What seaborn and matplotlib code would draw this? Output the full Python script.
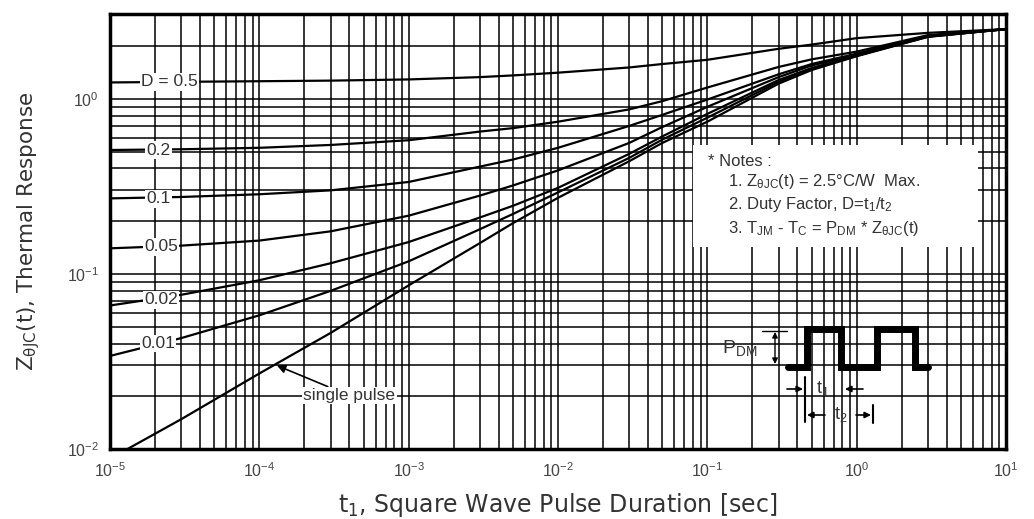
import pandas as pd
import seaborn as sns
import matplotlib.pyplot as plt
from matplotlib.patches import Rectangle
from matplotlib.ticker import LogLocator, NullFormatter, FixedFormatter, FixedLocator

sns.set_theme(style="white")
plt.rcParams["font.family"] = ["Liberation Sans", "DejaVu Sans"]
plt.rcParams["mathtext.fontset"] = "custom"
plt.rcParams["mathtext.rm"] = "Liberation Sans"
plt.rcParams["mathtext.it"] = "Liberation Sans:italic"
plt.rcParams["mathtext.default"] = "regular"

# pulse duration [sec] and thermal response Z(t)
t_sec = [1e-5, 3e-5, 1e-4, 3e-4, 1e-3, 3e-3, 5e-3, 1e-2, 3e-2, 5e-2, 1e-1, 3e-1, 5e-1, 1, 3, 10]
z_d050 = [1.24, 1.25, 1.26, 1.27, 1.29, 1.33, 1.36, 1.41, 1.51, 1.58, 1.67, 1.93, 2.04, 2.22, 2.38, 2.50]
z_d020 = [0.51, 0.515, 0.525, 0.545, 0.58, 0.65, 0.68, 0.74, 0.87, 0.97, 1.16, 1.52, 1.68, 1.86, 2.31, 2.50]
z_d010 = [0.27, 0.275, 0.285, 0.30, 0.335, 0.41, 0.45, 0.525, 0.70, 0.81, 0.99, 1.38, 1.58, 1.81, 2.29, 2.50]
z_d005 = [0.14, 0.145, 0.155, 0.175, 0.215, 0.28, 0.32, 0.39, 0.56, 0.69, 0.90, 1.33, 1.55, 1.79, 2.28, 2.50]
z_d002 = [0.066, 0.076, 0.092, 0.115, 0.152, 0.21, 0.245, 0.31, 0.485, 0.61, 0.82, 1.28, 1.50, 1.77, 2.27, 2.50]
z_d001 = [0.034, 0.043, 0.058, 0.08, 0.118, 0.18, 0.22, 0.292, 0.46, 0.585, 0.78, 1.25, 1.48, 1.76, 2.26, 2.50]
z_single = [0.0088, 0.0148, 0.027, 0.046, 0.086, 0.15, 0.195, 0.272, 0.44, 0.56, 0.74, 1.22, 1.46, 1.75, 2.26, 2.50]

curve_names = ["D = 0.5", "0.2", "0.1", "0.05", "0.02", "0.01", "single pulse"]
curve_values = [z_d050, z_d020, z_d010, z_d005, z_d002, z_d001, z_single]

# where the in-plot curve labels sit (t, Z)
label_t = [2.5e-5, 2.1e-5, 2.1e-5, 2.2e-5, 2.2e-5, 2.1e-5]
label_z = [1.25, 0.51, 0.268, 0.143, 0.071, 0.040]

df = pd.concat(
    [pd.DataFrame({"t": t_sec, "z": z, "curve": name}) for name, z in zip(curve_names, curve_values)],
    ignore_index=True,
)

fig = plt.figure(figsize=(10.34, 5.19), dpi=100)
ax = fig.add_axes([110 / 1034, 1 - 449 / 519, 896 / 1034, 435 / 519])

sns.lineplot(data=df, x="t", y="z", hue="curve", palette=["black"] * len(curve_names),
             legend=False, lw=1.6, ax=ax, zorder=3)

ax.set_xscale("log")
ax.set_yscale("log")
ax.set_xlim(1e-5, 10)
ax.set_ylim(1e-2, 3.05)

# full log grid, black like the printed chart
ax.xaxis.set_minor_locator(LogLocator(base=10, subs=range(2, 10), numticks=20))
ax.yaxis.set_minor_locator(LogLocator(base=10, subs=range(2, 10), numticks=20))
ax.xaxis.set_minor_formatter(NullFormatter())
ax.yaxis.set_minor_formatter(NullFormatter())
ax.xaxis.set_major_locator(FixedLocator([1e-5, 1e-4, 1e-3, 1e-2, 1e-1, 1, 10]))
ax.xaxis.set_major_formatter(FixedFormatter([r"$10^{-5}$", r"$10^{-4}$", r"$10^{-3}$", r"$10^{-2}$",
                                             r"$10^{-1}$", r"$10^{0}$", r"$10^{1}$"]))
ax.yaxis.set_major_locator(FixedLocator([1e-2, 1e-1, 1]))
ax.yaxis.set_major_formatter(FixedFormatter([r"$10^{-2}$", r"$10^{-1}$", r"$10^{0}$"]))
ax.grid(True, which="both", color="black", lw=1.1)
ax.set_axisbelow(True)
ax.tick_params(which="both", length=0, labelsize=11.5, colors="#444444")
ax.tick_params(axis="x", pad=9)
ax.tick_params(axis="y", pad=8)
for sp in ax.spines.values():
    sp.set_color("black")
    sp.set_linewidth(2.5)

ax.set_xlabel(r"t$_1$, Square Wave Pulse Duration [sec]", fontsize=17, color="#333333",
              labelpad=8, family=["DejaVu Sans"])
ax.set_ylabel(r"Z$_{\theta JC}$(t), Thermal Response", fontsize=15.5, color="#333333", labelpad=18,
              family=["DejaVu Sans"])

# curve labels with white background
for name, tx, zy in zip(curve_names[:-1], label_t, label_z):
    ax.text(tx, zy, name, ha="center", va="center", fontsize=12.5, color="#333333", zorder=4,
            bbox=dict(facecolor="white", edgecolor="none", pad=1.0))

ax.annotate("single pulse", xy=(1.31e-4, 0.030), xytext=(4.0e-4, 0.0202),
            ha="center", va="center", fontsize=12.5, color="#333333", zorder=4,
            bbox=dict(facecolor="white", edgecolor="none", pad=1.0),
            arrowprops=dict(arrowstyle="-|>", color="black", lw=1.2, shrinkA=0, shrinkB=0))

# notes box
ax.add_patch(Rectangle((0.651, 0.464), 0.318, 0.235, transform=ax.transAxes,
                       facecolor="white", edgecolor="none", zorder=3))
ax.text(0.667, 0.66, "* Notes :", transform=ax.transAxes, fontsize=12, color="#333333",
        va="center", zorder=4)
notes = [r"1. Z$_{\theta JC}$(t) = 2.5°C/W  Max.",
         r"2. Duty Factor, D=t$_1$/t$_2$",
         r"3. T$_{JM}$ - T$_C$ = P$_{DM}$ * Z$_{\theta JC}$(t)"]
for i, line in enumerate(notes):
    ax.text(0.69, 0.614 - i * 0.053, line, transform=ax.transAxes, fontsize=12,
            color="#333333", va="center", zorder=4)

# pulse sketch (drawn in pixel-like coordinates of a small overlay)
sk = fig.add_axes([700 / 1034, 1 - 430 / 519, 250 / 1034, 110 / 519])
sk.set_xlim(700, 950)
sk.set_ylim(430, 320)
sk.axis("off")
pulse_x = [788, 807, 807, 841, 841, 877, 877, 915, 915, 928]
pulse_y = [367, 367, 329, 329, 367, 367, 329, 329, 367, 367]
sk.plot(pulse_x, pulse_y, color="black", lw=5, solid_joinstyle="miter")
sk.text(722, 348, r"P$_{DM}$", fontsize=14, color="#333333", ha="left", va="center")
sk.plot([762, 787], [331, 331], color="black", lw=1)
sk.annotate("", xy=(775, 332), xytext=(775, 364),
            arrowprops=dict(arrowstyle="<|-|>", color="black", lw=1, mutation_scale=8,
                            shrinkA=0, shrinkB=0))
sk.plot([805, 805], [377, 422], color="black", lw=1.5)
sk.plot([873, 873], [405, 423], color="black", lw=1.5)
arrow_kw = dict(arrowstyle="-|>", color="black", lw=1.2, mutation_scale=9, shrinkA=0, shrinkB=0)
sk.annotate("", xy=(803, 389), xytext=(787, 389), arrowprops=arrow_kw)
sk.annotate("", xy=(845, 389), xytext=(863, 389), arrowprops=arrow_kw)
sk.annotate("", xy=(807, 415), xytext=(825, 415), arrowprops=arrow_kw)
sk.annotate("", xy=(871, 415), xytext=(856, 415), arrowprops=arrow_kw)
sk.text(823, 389, r"t$_1$", fontsize=13, color="#333333", ha="center", va="center")
sk.text(841, 415, r"t$_2$", fontsize=13, color="#333333", ha="center", va="center")

fig.savefig("out.png", dpi=100)
